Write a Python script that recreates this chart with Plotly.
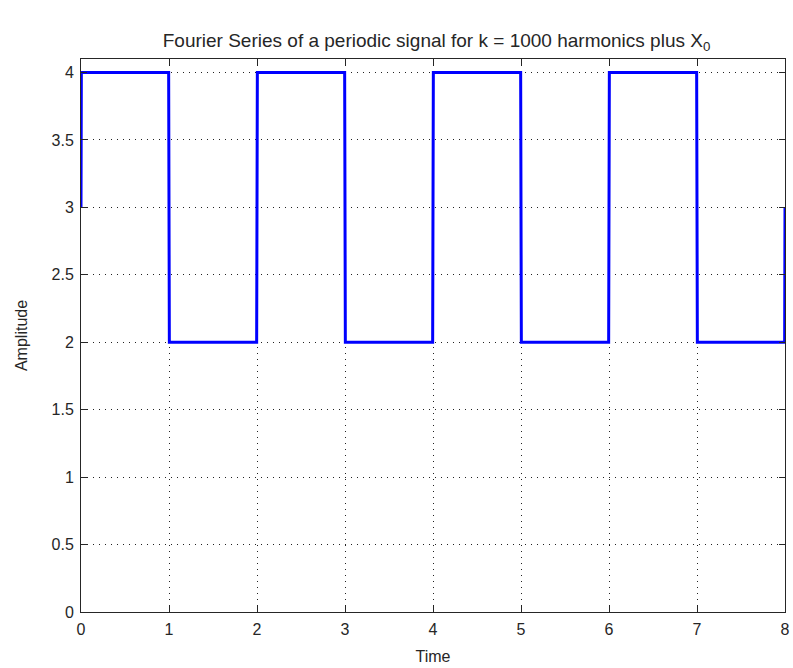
import plotly.graph_objects as go

# Square-wave Fourier synthesis (breakpoints)
time = [0.0, 0.004, 0.996, 1.0, 1.004, 1.996,
        2.0, 2.004, 2.996, 3.0, 3.004, 3.996,
        4.0, 4.004, 4.996, 5.0, 5.004, 5.996,
        6.0, 6.004, 6.996, 7.0, 7.004, 7.996, 8.0]
amplitude = [3.0, 4.0, 4.0, 3.0, 2.0, 2.0,
             3.0, 4.0, 4.0, 3.0, 2.0, 2.0,
             3.0, 4.0, 4.0, 3.0, 2.0, 2.0,
             3.0, 4.0, 4.0, 3.0, 2.0, 2.0, 3.0]

x_ticks = [0, 1, 2, 3, 4, 5, 6, 7, 8]
y_ticks = [0, 0.5, 1, 1.5, 2, 2.5, 3, 3.5, 4]
y_labels = ["0", "0.5", "1", "1.5", "2", "2.5", "3", "3.5", "4"]

font_family = "Liberation Sans, Arial, sans-serif"
text_color = "#262626"

fig = go.Figure()
fig.add_trace(go.Scatter(x=time, y=amplitude, mode="lines",
                         line=dict(color="#0000FF", width=3),
                         showlegend=False, hoverinfo="skip"))

axis_common = dict(
    showline=True, linecolor=text_color, linewidth=1, mirror="ticks",
    ticks="inside", ticklen=6, tickcolor=text_color,
    showgrid=True, gridcolor="#222222", griddash="1px,5px", gridwidth=1,
    zeroline=False, automargin=False,
    tickfont=dict(family=font_family, size=16, color=text_color),
)

fig.update_layout(
    width=793, height=668,
    paper_bgcolor="white", plot_bgcolor="white",
    margin=dict(l=81, r=8, t=59, b=56),
    title=dict(text="Fourier Series of a periodic signal for k = 1000 harmonics plus X<sub>0</sub>",
               x=0.505, xanchor="center", y=0.94, yanchor="middle",
               xref="paper",
               font=dict(family=font_family, size=19, color=text_color)),
    xaxis=dict(range=[0, 8], tickvals=x_ticks, ticktext=[str(v) for v in x_ticks],
               ticklabelstandoff=3,
               title=dict(text="Time", standoff=13,
                          font=dict(family=font_family, size=16, color=text_color)),
               **axis_common),
    yaxis=dict(range=[0, 4.1], tickvals=y_ticks, ticktext=y_labels,
               ticklabelstandoff=3,
               title=dict(text="Amplitude", standoff=19,
                          font=dict(family=font_family, size=16, color=text_color)),
               **axis_common),
)

fig.write_html("out.html")
